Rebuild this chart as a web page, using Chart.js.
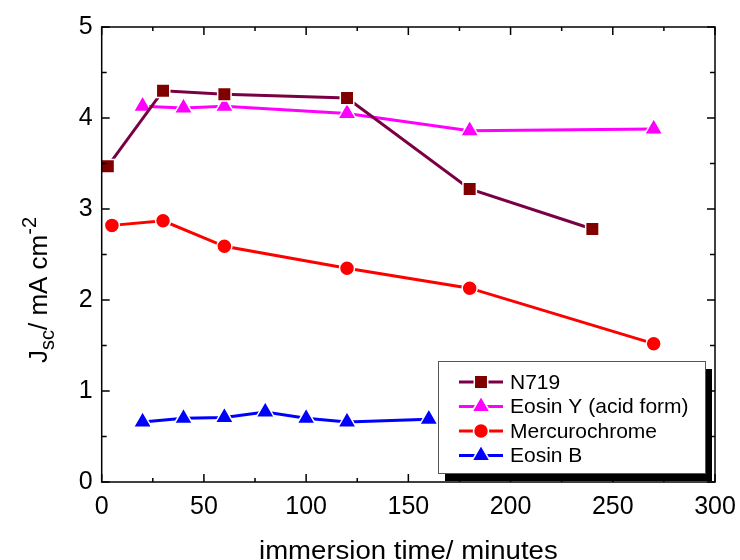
<!DOCTYPE html>
<html>
<head>
<meta charset="utf-8">
<script src="https://cdn.jsdelivr.net/npm/chart.js@4"></script>
<style>
  html, body { margin: 0; padding: 0; background: #fff; }
  #wrap { width: 740px; height: 560px; }
</style>
</head>
<body>
<div id="wrap"><canvas id="myChart"></canvas></div>
<script>
// values
var n719Time = [3, 30, 60, 120, 180, 240];
var n719Jsc = [3.47, 4.30, 4.26, 4.22, 3.22, 2.78];
var eosinYTime = [20, 40, 60, 120, 180, 270];
var eosinYJsc = [4.13, 4.11, 4.13, 4.05, 3.86, 3.88];
var mercTime = [5, 30, 60, 120, 180, 270];
var mercJsc = [2.82, 2.87, 2.59, 2.35, 2.13, 1.52];
var eosinBTime = [20, 40, 60, 80, 100, 120, 160];
var eosinBJsc = [0.66, 0.70, 0.71, 0.77, 0.70, 0.66, 0.69];
var xTicks = [0, 50, 100, 150, 200, 250, 300];
var yTicks = [0, 1, 2, 3, 4, 5];

var FONT = 'Liberation Sans, Arial, sans-serif';

function pts(xs, ys) {
    return xs.map(function(x, i) { return { x: x, y: ys[i] }; });
}

function series(label, xs, ys, line, fill, shape, radius) {
    return {
        label: label,
        data: pts(xs, ys),
        showLine: true,
        borderColor: line,
        borderWidth: 3,
        backgroundColor: fill,
        pointStyle: shape,
        pointRadius: radius,
        pointBackgroundColor: fill,
        pointBorderColor: '#fff',
        pointBorderWidth: 1.5,
        tension: 0
    };
}

// frame, inward ticks, titles
var framePlugin = {
    id: 'frame',
    afterDatasetsDraw: function(chart) {
        var c = chart.ctx, a = chart.chartArea;
        var xs = chart.scales.x, ys = chart.scales.y;
        c.save();
        c.strokeStyle = '#000';
        c.lineWidth = 1.5;
        c.strokeRect(a.left, a.top, a.right - a.left, a.bottom - a.top);
        c.beginPath();
        for (var v = 0; v <= 300; v += 25) {
            var px = xs.getPixelForValue(v);
            var len = (v % 50 === 0) ? 8 : 4;
            c.moveTo(px, a.bottom); c.lineTo(px, a.bottom - len);
            c.moveTo(px, a.top); c.lineTo(px, a.top + len);
        }
        for (var w = 0; w <= 5; w += 0.5) {
            var py = ys.getPixelForValue(w);
            var l = (w % 1 === 0) ? 8 : 5;
            c.moveTo(a.left, py); c.lineTo(a.left + l, py);
            c.moveTo(a.right, py); c.lineTo(a.right - l, py);
        }
        c.stroke();

        c.fillStyle = '#000';
        c.textAlign = 'center';
        c.textBaseline = 'alphabetic';
        c.save();
        c.translate((a.left + a.right) / 2, 559);
        c.scale(1.06, 1);
        c.font = '26px ' + FONT;
        c.fillText('immersion time/ minutes', 0, 0);
        c.restore();

        // y title with subscript / superscript
        c.translate(47, 290);
        c.rotate(-Math.PI / 2);
        c.textAlign = 'left';
        var parts = [
            ['J', 26, 0], ['sc', 20, 7], ['/ mA cm', 26, 0], ['-2', 20, -11]
        ];
        var total = 0;
        parts.forEach(function(p) { c.font = p[1] + 'px ' + FONT; total += c.measureText(p[0]).width; });
        var x = -total / 2;
        parts.forEach(function(p) {
            c.font = p[1] + 'px ' + FONT;
            c.fillText(p[0], x, p[2]);
            x += c.measureText(p[0]).width;
        });
        c.restore();
    },
    afterDraw: function(chart) {
        // legend box with drop shadow, drawn over the plot
        var c = chart.ctx;
        var bx = 438, by = 361, bw = 267, bh = 112;
        c.save();
        c.fillStyle = '#000';
        c.fillRect(bx + 7, by + 8, bw, bh);
        c.fillStyle = '#fff';
        c.fillRect(bx, by, bw, bh);
        c.strokeStyle = '#555';
        c.lineWidth = 1;
        c.strokeRect(bx + 0.5, by + 0.5, bw, bh);
        chart.data.datasets.forEach(function(ds, i) {
            var y = 382 + i * 24.5;
            c.strokeStyle = ds.borderColor;
            c.lineWidth = 3;
            c.beginPath();
            c.moveTo(459, y); c.lineTo(503, y);
            c.stroke();
            c.fillStyle = ds.pointBackgroundColor;
            c.strokeStyle = '#fff';
            c.lineWidth = 1.5;
            Chart.helpers.drawPoint(c, { pointStyle: ds.pointStyle, radius: ds.pointRadius, borderWidth: 1.5 }, 481, y);
            c.fillStyle = '#000';
            c.font = '21px ' + FONT;
            c.textAlign = 'left';
            c.textBaseline = 'middle';
            c.fillText(ds.label, 510, y + 1);
        });
        c.restore();
    }
};

var ctx = document.getElementById('myChart').getContext('2d');
var myChart = new Chart(ctx, {
    type: 'scatter',
    data: {
        datasets: [
            series('N719', n719Time, n719Jsc, '#7a0044', '#800000', 'rect', 9.5),
            series('Eosin Y (acid form)', eosinYTime, eosinYJsc, '#ff00ff', '#ff00ff', 'triangle', 10.5),
            series('Mercurochrome', mercTime, mercJsc, '#ff0000', '#ff0000', 'circle', 7.5),
            series('Eosin B', eosinBTime, eosinBJsc, '#0000ff', '#0000ff', 'triangle', 10.5)
        ]
    },
    options: {
        responsive: true,
        maintainAspectRatio: false,
        animation: false,
        layout: { padding: { top: 27, right: 25, left: 0, bottom: 0 } },
        plugins: {
            legend: { display: false },
            tooltip: { enabled: false }
        },
        scales: {
            x: {
                type: 'linear',
                min: 0,
                max: 300,
                afterBuildTicks: function(s) { s.ticks = xTicks.map(function(v) { return { value: v }; }); },
                afterFit: function(s) { s.height = 78; s.paddingLeft = 0; s.paddingRight = 0; },
                grid: { display: false, drawTicks: false },
                border: { display: false },
                ticks: { color: '#000', padding: 10, maxRotation: 0, font: { family: FONT, size: 25 } }
            },
            y: {
                type: 'linear',
                min: 0,
                max: 5,
                afterBuildTicks: function(s) { s.ticks = yTicks.map(function(v) { return { value: v }; }); },
                afterFit: function(s) { s.width = 101.7; s.paddingTop = 0; s.paddingBottom = 0; },
                grid: { display: false, drawTicks: false },
                border: { display: false },
                ticks: { color: '#000', padding: 9, font: { family: FONT, size: 25 } }
            }
        }
    },
    plugins: [framePlugin]
});
</script>
</body>
</html>
